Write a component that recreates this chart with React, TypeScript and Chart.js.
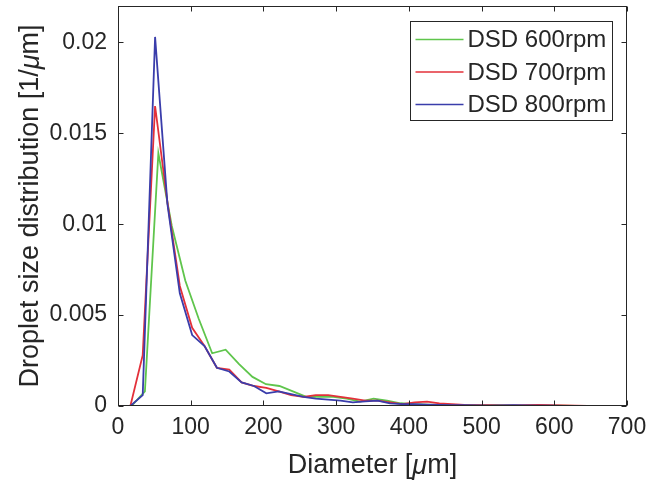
import React, { useEffect, useRef } from 'react';
import { Chart, registerables } from 'chart.js';

Chart.register(...registerables);

// ---- data ----
const seriesNames = ['DSD 600rpm', 'DSD 700rpm', 'DSD 800rpm'];
const seriesColors = ['#5fc54c', '#e3303a', '#3a3dab'];

const diameter600 = [
  0, 18.5, 37, 55.5, 74, 92.5, 111, 129.5, 148, 166.5, 185, 203.5, 222, 240.5, 259, 277.5, 296, 314.5, 333,
  351.5, 370, 388.5, 407, 425.5, 444, 462.5, 481, 499.5, 518, 536.5, 555, 573.5, 592, 610.5, 629, 647.5, 666, 684.5,
];
const dsd600 = [
  0, 0, 0.0008, 0.0139, 0.0099, 0.0069, 0.0048, 0.0029, 0.0031, 0.0023, 0.0016, 0.0012, 0.0011, 0.0008, 0.0005,
  0.0005, 0.0005, 0.0004, 0.00024, 0.0004, 0.0003, 0.00015, 0.0001, 0.00008, 0.00006, 0.00005, 0.00004, 0.00003,
  0.00004, 0.00003, 0.00002, 0.00003, 0.00002, 0.00002, 0.00001, 0.00001, 0, 0,
];

const diameter700 = [
  0, 17, 34, 51, 68, 85, 102, 119, 136, 153, 170, 187, 204, 221, 238, 255, 272, 289, 306, 323, 340, 357, 374, 391,
  408, 425, 442, 459, 476, 493, 510, 527, 544, 561, 578, 595, 612, 629, 646, 663, 680, 697,
];
const dsd700 = [
  0, 0, 0.0028, 0.0165, 0.0112, 0.0066, 0.0043, 0.0033, 0.0021, 0.002, 0.0013, 0.0011, 0.001, 0.0008, 0.0006,
  0.0005, 0.0006, 0.0006, 0.0005, 0.0004, 0.0003, 0.0003, 0.0002, 0.0001, 0.0002, 0.00024, 0.00015, 0.0001,
  0.00006, 0.00004, 0.00005, 0.00003, 0.00003, 0.00004, 0.00006, 0.00004, 0.00003, 0.00002, 0.00001, 0.00001, 0, 0,
];

const diameter800 = [
  0, 17, 34, 51, 68, 85, 102, 119, 136, 153, 170, 187, 204, 221, 238, 255, 272, 289, 306, 323, 340, 357, 374, 391,
  408, 425, 442, 459, 476, 493, 510, 527, 544, 561, 578, 595, 612, 629, 646, 663, 680, 697,
];
const dsd800 = [
  0, 0, 0.0006, 0.0203, 0.0111, 0.0062, 0.0039, 0.0033, 0.0021, 0.0019, 0.0013, 0.0011, 0.0007, 0.0008, 0.00065,
  0.0005, 0.0004, 0.00035, 0.0003, 0.0002, 0.00025, 0.0003, 0.00015, 0.0001, 0.0001, 0.00008, 0.00006, 0.00005,
  0.00004, 0.00003, 0.00002, 0.00003, 0.00004, 0.00003, 0.00002, 0.00002, 0.00001, 0.00001, 0, 0, 0, 0,
];

const xTicks = [0, 100, 200, 300, 400, 500, 600, 700];
const yTicks = [0, 0.005, 0.01, 0.015, 0.02];
const yTickLabels = ['0', '0.005', '0.01', '0.015', '0.02'];
// title pieces: [text, italic]
const xTitleParts: [string, boolean][] = [['Diameter [', false], ['μ', true], ['m]', false]];
const yTitleParts: [string, boolean][] = [['Droplet size distribution [1/', false], ['μ', true], ['m]', false]];

const FONT = '"Liberation Sans", Arial, Helvetica, sans-serif';
const INK = '#262626';
const TITLE_SIZE = 27;

function drawParts(ctx: CanvasRenderingContext2D, parts: [string, boolean][], cx: number, cy: number, rot: number) {
  ctx.save();
  ctx.translate(cx, cy);
  ctx.rotate(rot);
  ctx.fillStyle = INK;
  ctx.textBaseline = 'middle';
  ctx.textAlign = 'left';
  const fontFor = (it: boolean) => `${it ? 'italic ' : ''}${TITLE_SIZE}px ${FONT}`;
  let total = 0;
  const widths = parts.map(([t, it]) => {
    ctx.font = fontFor(it);
    const w = ctx.measureText(t).width;
    total += w;
    return w;
  });
  let x = -total / 2;
  parts.forEach(([t, it], i) => {
    ctx.font = fontFor(it);
    ctx.fillText(t, x, 0);
    x += widths[i];
  });
  ctx.restore();
}

export default function App() {
  const ref = useRef<HTMLCanvasElement>(null);

  useEffect(() => {
    document.body.style.margin = '0';
    const canvas = ref.current;
    if (!canvas) return;

    const toPts = (xs: number[], ys: number[]) => xs.map((x, i) => ({ x, y: ys[i] }));
    const xs = [diameter600, diameter700, diameter800];
    const ys = [dsd600, dsd700, dsd800];

    const boxPlugin = {
      id: 'matlabBox',
      afterDatasetsDraw(chart: any) {
        const { ctx, chartArea } = chart;
        const { left, right, top, bottom } = chartArea;
        const sx = chart.scales.x;
        const sy = chart.scales.y;
        ctx.save();
        ctx.strokeStyle = INK;
        ctx.lineWidth = 1;
        ctx.beginPath();
        const L = Math.round(left) + 0.5;
        const R = Math.round(right) - 0.5;
        const T = Math.round(top) + 0.5;
        const B = Math.round(bottom) - 0.5;
        xTicks.forEach((v) => {
          const px = Math.round(sx.getPixelForValue(v)) + 0.5;
          ctx.moveTo(px, B);
          ctx.lineTo(px, B - 5);
          ctx.moveTo(px, T);
          ctx.lineTo(px, T + 5);
        });
        yTicks.forEach((v) => {
          const py = Math.round(sy.getPixelForValue(v)) + 0.5;
          ctx.moveTo(L, py);
          ctx.lineTo(L + 5, py);
          ctx.moveTo(R, py);
          ctx.lineTo(R - 5, py);
        });
        ctx.stroke();
        ctx.strokeRect(L, T, R - L, B - T);
        ctx.restore();
      },
    };

    const titlesPlugin = {
      id: 'axisTitles',
      afterDraw(chart: any) {
        const { ctx, chartArea } = chart;
        const cx = (chartArea.left + chartArea.right) / 2;
        const cy = (chartArea.top + chartArea.bottom) / 2;
        drawParts(ctx, xTitleParts, cx, 466, 0);
        drawParts(ctx, yTitleParts, 31, cy, -Math.PI / 2);
      },
    };

    const legendPlugin = {
      id: 'insideLegend',
      afterDraw(chart: any) {
        const { ctx, chartArea } = chart;
        const w = 202;
        const h = 99;
        const bx = Math.round(chartArea.right - 15 - w) + 0.5;
        const by = Math.round(chartArea.top + 15) + 0.5;
        ctx.save();
        ctx.fillStyle = '#ffffff';
        ctx.fillRect(bx, by, w, h);
        ctx.strokeStyle = INK;
        ctx.lineWidth = 1;
        ctx.strokeRect(bx, by, w, h);
        ctx.font = `24px ${FONT}`;
        ctx.textBaseline = 'middle';
        ctx.textAlign = 'left';
        seriesNames.forEach((name, i) => {
          const cy = by + 18 + i * 32.5;
          ctx.strokeStyle = seriesColors[i];
          ctx.lineWidth = 1.6;
          ctx.beginPath();
          ctx.moveTo(bx + 5, cy);
          ctx.lineTo(bx + 53, cy);
          ctx.stroke();
          ctx.fillStyle = INK;
          ctx.fillText(name, bx + 57, cy + 1);
        });
        ctx.restore();
      },
    };

    const chart = new Chart(canvas, {
      type: 'line',
      data: {
        datasets: seriesNames.map((name, i) => ({
          label: name,
          data: toPts(xs[i], ys[i]),
          borderColor: seriesColors[i],
          backgroundColor: seriesColors[i],
          borderWidth: 1.8,
          pointRadius: 0,
          tension: 0,
          fill: false,
          order: 2 - i,
        })),
      },
      options: {
        responsive: false,
        animation: false,
        events: [],
        layout: { padding: { left: 0, right: 21, top: 6, bottom: 0 } },
        plugins: { legend: { display: false }, tooltip: { enabled: false } },
        scales: {
          x: {
            type: 'linear',
            min: 0,
            max: 700,
            afterBuildTicks: (scale: any) => {
              scale.ticks = xTicks.map((v) => ({ value: v }));
            },
            afterFit: (scale: any) => {
              scale.height = 77;
              scale.paddingLeft = 0;
              scale.paddingRight = 0;
            },
            grid: { display: false, drawTicks: false },
            border: { display: false },
            ticks: {
              color: INK,
              font: { family: FONT, size: 23 },
              padding: 8,
              maxRotation: 0,
              autoSkip: false,
              callback: (v: any) => String(v),
            },
            title: { display: false },
          },
          y: {
            type: 'linear',
            min: 0,
            max: 0.022,
            afterBuildTicks: (scale: any) => {
              scale.ticks = yTicks.map((v) => ({ value: v }));
            },
            afterFit: (scale: any) => {
              scale.width = 118;
              scale.paddingTop = 0;
              scale.paddingBottom = 0;
            },
            grid: { display: false, drawTicks: false },
            border: { display: false },
            ticks: {
              color: INK,
              font: { family: FONT, size: 23 },
              padding: 11,
              autoSkip: false,
              callback: (v: any) => {
                const idx = yTicks.indexOf(Number(v));
                return idx >= 0 ? yTickLabels[idx] : '';
              },
            },
            title: { display: false },
          },
        },
      },
      plugins: [boxPlugin, legendPlugin, titlesPlugin],
    });

    return () => chart.destroy();
  }, []);

  return (
    <div style={{ width: 648, height: 483 }}>
      <canvas ref={ref} width={648} height={483} style={{ display: 'block' }} />
    </div>
  );
}
